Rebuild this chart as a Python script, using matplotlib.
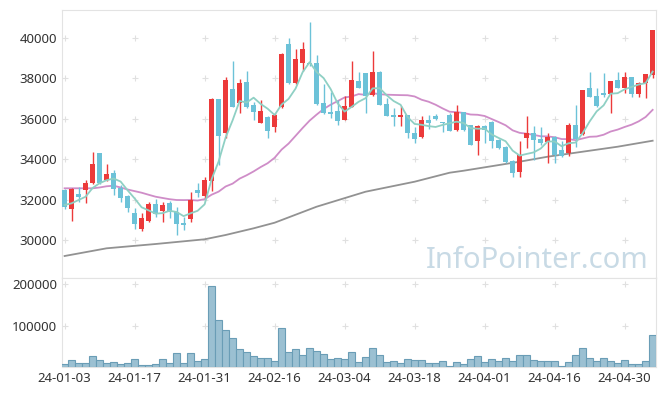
import pandas as pd
import matplotlib
matplotlib.use('Agg')
import matplotlib.pyplot as plt

# trading days (KRX, holidays removed)
holidays = ['2024-02-09', '2024-02-12', '2024-03-01', '2024-04-10', '2024-05-01', '2024-05-06']
dates = pd.bdate_range('2024-01-03', '2024-05-08', freq='C', holidays=holidays)

opens = [32475, 31520, 32277, 32475, 32807, 34292, 32970, 33317, 32574, 32178,
         31351, 30530, 30955, 31782, 31450, 31832, 31386, 30827, 31054, 32475,
         32178, 32921, 36980, 35312, 37475, 36767, 37822, 36668, 35807, 36074,
         35609, 36599, 39703, 37757, 38762, 38738, 38747, 36767, 36337, 36386,
         35941, 36599, 37871, 38252, 37178, 38332, 36718, 36188, 36104, 36188,
         35282, 35094, 35941, 36139, 35842, 36188, 35446, 36337, 35678, 34916,
         35644, 35856, 34950, 34620, 33927, 33352, 35035, 35312, 34983, 34835,
         35114, 34431, 34282, 35693, 35248, 37508, 37129, 37243, 37213, 37921,
         37508, 38054, 37228, 37787, 38168]
highs = [32525, 32574, 32639, 32970, 34342, 34307, 33762, 33465, 32723, 32228,
         31584, 31322, 31898, 32030, 31898, 31931, 31650, 31155, 32391, 32837,
         33134, 37030, 36990, 38054, 38861, 37955, 38366, 36846, 36930, 36139,
         36272, 39257, 39985, 39441, 39817, 40777, 39158, 37723, 37342, 36931,
         37129, 38861, 38332, 38270, 39356, 38360, 37010, 36550, 36634, 36210,
         35609, 36139, 36188, 36238, 35860, 36272, 36683, 36360, 35700, 35680,
         35670, 35880, 34980, 34650, 33960, 34901, 36139, 35644, 35609, 35312,
         35140, 34901, 35807, 36683, 37440, 38332, 37508, 38251, 37890, 38332,
         38332, 38070, 37810, 38240, 40410]
lows = [31535, 30941, 31881, 31817, 32772, 32772, 32921, 32228, 31881, 31371,
        30530, 30446, 30891, 31124, 30875, 31074, 30248, 30495, 30906, 32129,
        32079, 32441, 33713, 35035, 36584, 36272, 36535, 35941, 35777, 35035,
        35361, 36551, 37723, 37723, 38342, 38614, 36700, 36238, 36025, 35693,
        35920, 36580, 37520, 36287, 37150, 36660, 36114, 35658, 35658, 35035,
        34817, 35050, 35480, 35941, 35361, 35380, 35420, 35420, 34680, 34193,
        34817, 34540, 34505, 33828, 33134, 33134, 34540, 33960, 34720, 33828,
        33800, 34100, 34134, 34620, 35220, 37080, 36584, 37095, 36272, 37520,
        37280, 37095, 37062, 37013, 38004]
closes = [31619, 32525, 32129, 32837, 33762, 32807, 33267, 32540, 32094, 31599,
          30792, 31074, 31782, 31272, 31733, 31371, 30777, 30757, 31980, 32342,
          32970, 36980, 35149, 37921, 36599, 37757, 36599, 36351, 36386, 35411,
          36188, 39193, 37757, 38946, 39441, 38688, 36733, 36272, 36238, 35906,
          36634, 37896, 37540, 37129, 38332, 36683, 36153, 36104, 36188, 35282,
          35000, 35941, 35777, 35975, 35792, 35411, 36337, 35446, 34703, 35644,
          35446, 34901, 34569, 33878, 33333, 34208, 35312, 34950, 34817, 35099,
          34208, 34134, 35693, 34984, 37426, 37095, 36634, 37194, 37871, 37540,
          38054, 37228, 37787, 38218, 40396]
volumes = [6500, 16900, 8900, 8900, 25800, 16900, 8900, 11300, 6500, 8900,
           18500, 4100, 4100, 6500, 18500, 8900, 33000, 8900, 33000, 13700,
           18500, 194500, 112500, 88400, 69100, 42600, 35400, 25800, 21000, 21000,
           13700, 93200, 35400, 42600, 28200, 45000, 37800, 30600, 18500, 21000,
           18500, 35400, 11300, 23400, 45000, 28200, 11300, 13700, 8900, 18500,
           16100, 16100, 8900, 8900, 13700, 1700, 11300, 6500, 18500, 25800,
           11300, 18500, 13700, 21000, 13700, 28200, 28200, 16100, 13700, 13700,
           13700, 1700, 11300, 28200, 45000, 21000, 13700, 21000, 13700, 8900,
           16100, 6500, 6500, 13700, 76400]

# moving-average values before enough days exist in this window
ma5_head = [31733, 31817, 31980, 32143]
ma20_head = [32559, 32560, 32560, 32560, 32559, 32600, 32660, 32688, 32600, 32500,
             32420, 32341, 32240, 32143, 32080, 32020, 31980, 31975, 31980]
# long moving average
ma_long_idx = [0, 6, 13, 20, 23, 27, 30, 36, 43, 50, 55, 57, 65, 69, 74, 79, 84]
ma_long = [29208, 29589, 29802, 30035, 30248, 30579, 30856, 31648, 32391, 32886,
           33331, 33430, 33876, 34123, 34371, 34618, 34915]

df = pd.DataFrame({'open': opens, 'high': highs, 'low': lows, 'close': closes, 'vol': volumes})
n = len(df)
x = list(range(n))
ma5 = df['close'].rolling(5).mean()
ma5.iloc[:4] = ma5_head
ma20 = df['close'].rolling(20).mean()
ma20.iloc[:19] = ma20_head

RED = '#ec3a3a'
BLUE = '#6cc2d8'
plt.rcParams['font.family'] = ['Noto Sans', 'DejaVu Sans']

fig = plt.figure(figsize=(6.65, 3.96), dpi=100)
ax = fig.add_axes([62 / 665, 1 - 277.5 / 396, 594 / 665, 267.5 / 396])
axv = fig.add_axes([62 / 665, 1 - 367 / 396, 594 / 665, 89.5 / 396], sharex=ax)

up = df['close'] >= df['open']
colors = [RED if u else BLUE for u in up]
ax.vlines(x, df['low'], df['high'], colors=colors, linewidth=1.0, zorder=3)
body_bottom = df[['open', 'close']].min(axis=1)
body_h = (df['close'] - df['open']).abs().clip(lower=60)
ax.bar(x, body_h, bottom=body_bottom, width=0.68, color=colors, linewidth=0, zorder=4)

ax.plot(x, ma5, color='#8fd0c4', linewidth=1.3, zorder=5)
ax.plot(x, ma20, color='#cf8dc8', linewidth=1.3, zorder=2)
ax.plot(ma_long_idx, ma_long, color='#929292', linewidth=1.3, zorder=2)

ax.set_xlim(-0.37, 84.48)
ax.set_ylim(28144, 41385)
yt = [30000, 32000, 34000, 36000, 38000, 40000]
ax.set_yticks(yt)
xt = list(range(0, n, 10))
for a in (ax, axv):
    for s in a.spines.values():
        s.set_color('#e3e3e3')
    a.tick_params(length=0, labelsize=9.5, colors='#333333')
ax.tick_params(labelbottom=False)

# "+" grid markers at the tick crossings
gx = [i for i in xt for _ in yt]
gy = [v for _ in xt for v in yt]
ax.scatter(gx, gy, marker='+', s=18, color='#e0e0e0', linewidths=0.8, zorder=1)

ax.text(0.987, 0.035, 'InfoPointer.com', transform=ax.transAxes, ha='right', va='baseline',
        fontsize=21, color='#c8dae5', zorder=6)

axv.bar(x, df['vol'], width=1.0, color='#9bc0d2', edgecolor='#6a9db6', linewidth=0.8, zorder=3)
axv.set_ylim(0, 215700)
axv.set_yticks([100000, 200000])
vx = [i for i in xt for _ in range(2)]
vy = [v for _ in xt for v in (100000, 200000)]
axv.scatter(vx, vy, marker='+', s=18, color='#e0e0e0', linewidths=0.8, zorder=1)
axv.set_xticks(xt)
axv.set_xticklabels([dates[i].strftime('%y-%m-%d') for i in xt])

fig.savefig('out.png', dpi=100)
